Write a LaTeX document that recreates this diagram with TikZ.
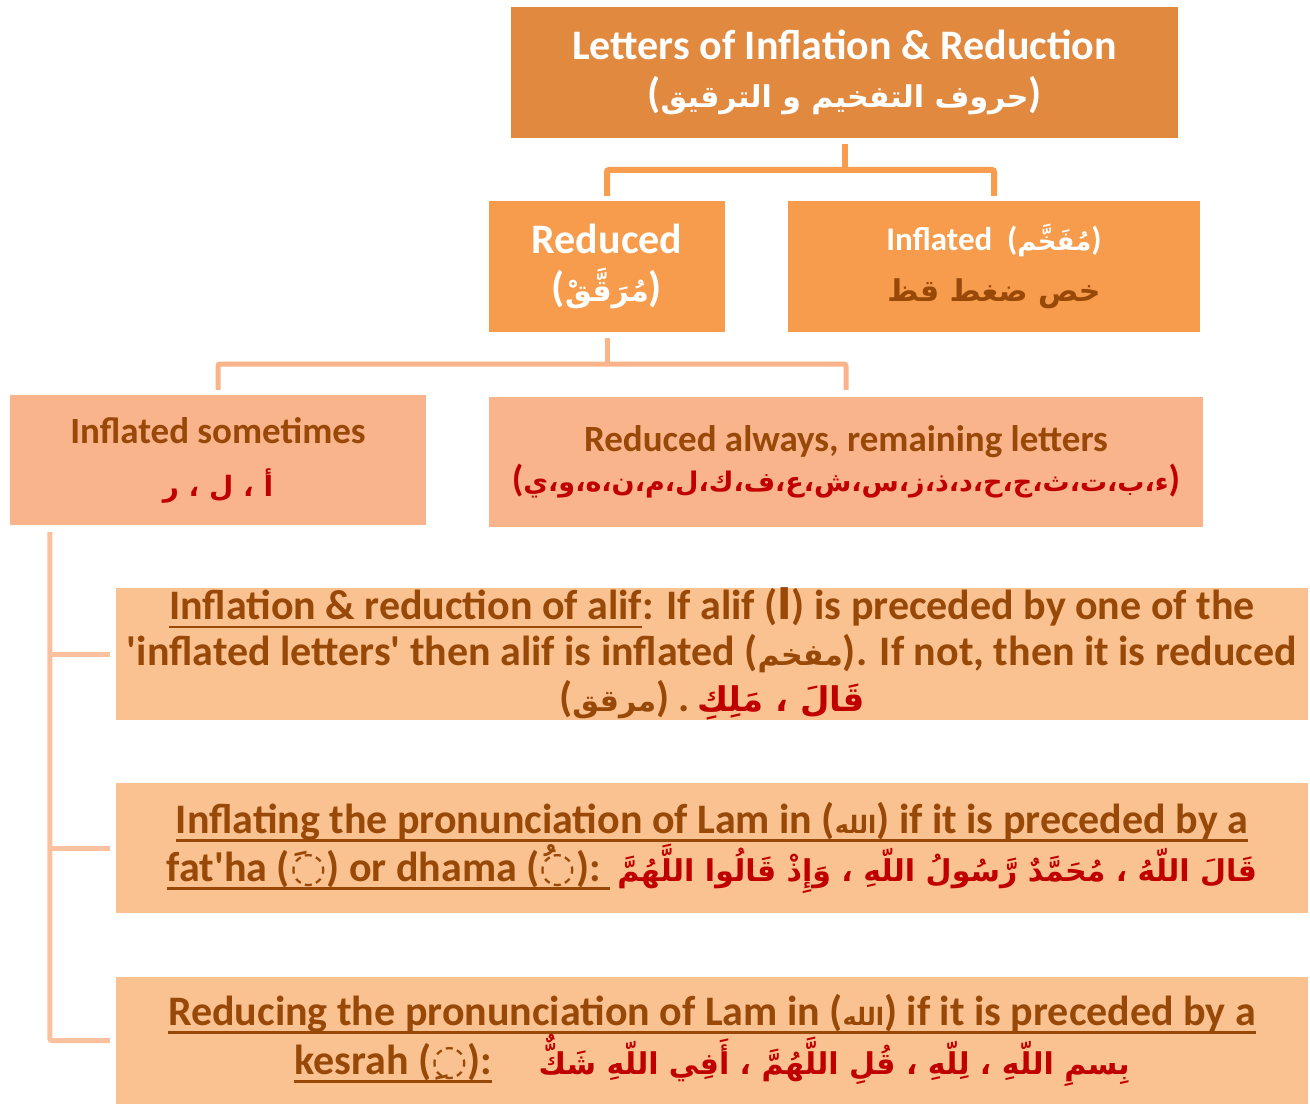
\documentclass[tikz,border=0pt]{standalone}
\usepackage{fontspec}
\setmainfont{Carlito}
\newfontfamily\arabicfont[Script=Arabic]{DejaVu Sans}
\TeXXeTstate=1
\usetikzlibrary{calc}

\definecolor{topfill}{HTML}{E0893F}
\definecolor{midfill}{HTML}{F79B4C}
\definecolor{rowfill}{HTML}{F9B48C}
\definecolor{lowfill}{HTML}{FAC191}
\definecolor{linea}{HTML}{F89C4E}
\definecolor{lineb}{HTML}{FBB48A}
\definecolor{linec}{HTML}{FBC09E}
\definecolor{brown}{HTML}{984807}
\definecolor{arred}{HTML}{C00000}

% Arabic run, set right to left
\newcommand\ar[1]{{\arabicfont\beginR #1\endR}}
% underline drawn in the current text colour
\newcommand\ulin[1]{\leavevmode\setbox0\hbox{#1}\rlap{\rule[-0.2em]{\wd0}{0.06em}}\box0}
% font size with fixed line distance
\newcommand\fs[2]{\fontsize{#1}{#2}\selectfont\bfseries\lineskiplimit=-200pt\relax}
\newcommand\q{\textquotesingle}
% the word Allah inside a Latin line
\newcommand\allah{{\fontsize{24}{24}\selectfont\ar{الله}}}

\tikzset{
  box/.style={rectangle, inner sep=0pt, align=center},
  conna/.style={draw=linea, line width=6pt, rounded corners=2pt},
  connb/.style={draw=lineb, line width=5pt, rounded corners=2pt},
  connc/.style={draw=linec, line width=5pt, rounded corners=2pt},
}

\begin{document}
\begin{tikzpicture}[x=1pt,y=-1pt]
\useasboundingbox (0,0) rectangle (1310,1105);

% title
\node[box, fill=topfill, text=white, minimum width=667, minimum height=131,
      font=\fs{42}{48}] (top) at (844.5,72.5)
  {Letters of Inflation \& Reduction\\({\fs{30}{48}\ar{حروف التفخيم و الترقيق}})};

% second level
\node[box, fill=midfill, text=white, minimum width=236, minimum height=131,
      font=\fs{42}{48}] (red) at (607,266.5)
  {Reduced\\({\fs{30}{48}\ar{مُرَقَّقْ}})};
\node[box, fill=midfill, minimum width=412, minimum height=131,
      font=\fs{33}{51}] (inf) at (994,266.5)
  {\textcolor{white}{Inflated\ \ ({\fs{26}{51}\ar{مُفَخَّم}})}\\
   \textcolor{brown}{\fs{30}{51}\ar{خص ضغط قظ}}};

% third level
\node[box, fill=rowfill, text=brown, minimum width=416, minimum height=130,
      font=\fs{37}{53}] (som) at (218,460)
  {Inflated sometimes\\ \textcolor{arred}{\fs{28}{53}\ar{أ ، ل ، ر}}};
\node[box, fill=rowfill, text=brown, minimum width=714, minimum height=130,
      font=\fs{37}{40}] (alw) at (846,462)
  {Reduced always, remaining letters\\
   \textcolor{arred}{({\fs{27}{40}\ar{ء،ب،ت،ث،ج،ح،د،ذ،ز،س،ش،ع،ف،ك،ل،م،ن،ه،و،ي}})}};

% rules
\node[box, fill=lowfill, text=brown, minimum width=1192, minimum height=130,
      font=\fs{42}{46}] (ba) at (712,654)
  {\ulin{Inflation \& reduction of alif}: If alif ({\arabicfont ا}) is preceded by one of the\\
   \q inflated letters\q\ then alif is inflated ({\fs{30}{46}\ar{مفخم}}). If not, then it is reduced\\
   ({\fs{30}{46}\ar{مرقق}})\ .\,\textcolor{arred}{\fs{34}{46}\ar{قَالَ ، مَلِكِ}}};
\node[box, fill=lowfill, text=brown, minimum width=1192, minimum height=130,
      font=\fs{42}{48}] (bb) at (712,848)
  {\ulin{Inflating the pronunciation of Lam in (\allah) if it is preceded by a}\\
   \ulin{fat\q ha ({\arabicfont ◌َ}) or dhama ({\arabicfont ◌ُ}):\ }\,%
   \textcolor{arred}{\fs{30}{48}\ar{قَالَ اللّهُ ، مُحَمَّدٌ رَّسُولُ اللّهِ ، وَإِذْ قَالُوا اللَّهُمَّ}}};
\node[box, fill=lowfill, text=brown, minimum width=1192, minimum height=127,
      font=\fs{42}{49}] (bc) at (712,1040.5)
  {\ulin{Reducing the pronunciation of Lam in (\allah) if it is preceded by a}\\
   \ulin{kesrah ({\arabicfont ◌ِ}):}\hspace{1.1em}%
   \textcolor{arred}{\fs{30}{49}\ar{بِسمِ اللّهِ ، لِلّهِ ، قُلِ اللَّهُمَّ ، أَفِي اللّهِ شَكٌّ}}};

% connectors
\coordinate (ja) at (top.south |- 0,170);
\coordinate (jb) at (red.south |- 0,364);
\coordinate (spine) at ($(som.south west)+(40,0)$);
\draw[conna, shorten <=6pt] (top.south) -- (ja);
\draw[conna, shorten <=5pt, shorten >=5pt] (red.north) |- (ja) -| (inf.north);
\draw[connb, shorten <=6pt] (red.south) -- (jb);
\draw[connb, shorten <=5pt, shorten >=7pt] (som.north) |- (jb) -| (alw.north);
\draw[connc, shorten <=7pt, shorten >=6pt] (spine) |- (bc.west);
\draw[connc, shorten >=6pt] (spine |- ba.west) -- (ba.west);
\draw[connc, shorten >=6pt] (spine |- bb.west) -- (bb.west);
\end{tikzpicture}
\end{document}
